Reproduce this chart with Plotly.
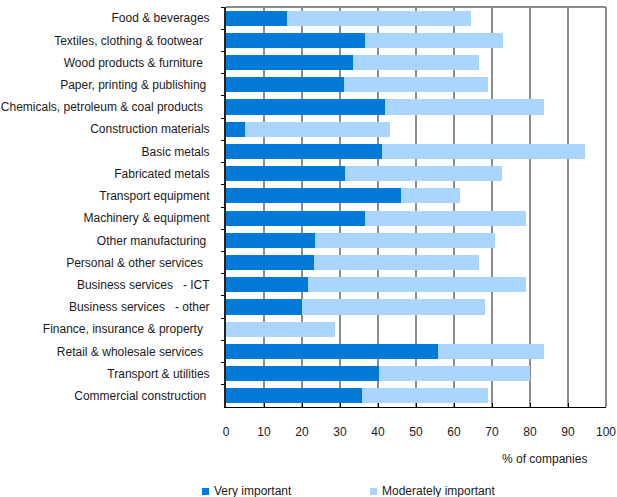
import plotly.graph_objects as go

NB = "\u00a0"

# Sectors, top to bottom
sectors = [
    "Food & beverages",
    "Textiles, clothing & footwear" + NB * 2,
    "Wood products & furniture" + NB * 2,
    "Paper, printing & publishing" + NB,
    "Chemicals, petroleum & coal products" + NB * 2,
    "Construction materials",
    "Basic metals",
    "Fabricated metals",
    "Transport equipment",
    "Machinery & equipment",
    "Other manufacturing" + NB,
    "Personal & other services" + NB * 2,
    "Business services" + NB * 3 + "- ICT",
    "Business services" + NB * 3 + "- other",
    "Finance, insurance & property" + NB * 2,
    "Retail & wholesale services" + NB * 2,
    "Transport & utilities",
    "Commercial construction" + NB,
]

# % of companies rating the factor "very important"
very_important = [16.0, 36.6, 33.4, 31.0, 41.8, 5.0, 41.0, 31.3, 46.0,
                  36.6, 23.4, 23.2, 21.6, 20.0, 0.0, 55.8, 40.3, 35.8]

# % of companies rating it "moderately important"
moderately_important = [48.4, 36.3, 33.2, 37.9, 41.9, 38.2, 53.5, 41.3, 15.6,
                        42.3, 47.4, 43.4, 57.3, 48.2, 28.7, 27.9, 39.7, 33.1]

x_ticks = [0, 10, 20, 30, 40, 50, 60, 70, 80, 90, 100]

series_names = ["Very important", "Moderately important"]

DARK = "#007AD6"
LIGHT = "#A9D5FE"
FONT = "Liberation Sans, Arial, sans-serif"
TEXT = "#1a1a1a"

fig = go.Figure()
fig.add_trace(go.Bar(
    y=sectors, x=very_important, orientation="h",
    name=series_names[0], marker=dict(color=DARK, line=dict(width=0)),
))
fig.add_trace(go.Bar(
    y=sectors, x=moderately_important, orientation="h",
    name=series_names[1], marker=dict(color=LIGHT, line=dict(width=0)),
))

# Key below the chart: small colour squares followed by the series names
key_x = [0.0, 0.0]
key_x[0] = 202
key_x[1] = 370
key_shapes = []
key_labels = []
for left_px, colour, label in zip(key_x, [DARK, LIGHT], series_names):
    key_shapes.append(dict(
        type="rect", xref="paper", yref="paper",
        x0=(left_px - 226) / 380, x1=(left_px + 7 - 226) / 380,
        y0=(407 - 495) / 400, y1=(407 - 488) / 400,
        fillcolor=colour, line=dict(width=0),
    ))
    key_labels.append(dict(
        text=label, xref="paper", yref="paper",
        x=(left_px + 10 - 226) / 380, y=(407 - 491) / 400,
        xanchor="left", yanchor="middle", showarrow=False,
        font=dict(family=FONT, size=12, color=TEXT),
    ))

fig.update_layout(
    barmode="stack",
    bargap=0.32,
    width=617, height=497,
    margin=dict(l=226, r=11, t=7, b=90, autoexpand=False),
    paper_bgcolor="white",
    plot_bgcolor="white",
    font=dict(family=FONT, size=12, color=TEXT),
    showlegend=False,
    xaxis=dict(
        range=[0, 100],
        tickmode="array", tickvals=x_ticks,
        ticks="inside", ticklen=4, tickcolor="black", tickwidth=1,
        showline=True, linecolor="black", linewidth=1,
        showgrid=True, gridcolor="#8c8c8c", gridwidth=2,
        zeroline=False,
        ticklabelstandoff=14,
        automargin=False,
        fixedrange=True,
    ),
    yaxis=dict(
        categoryorder="array", categoryarray=sectors,
        autorange="reversed",
        ticks="outside", tickson="boundaries", ticklen=3,
        tickcolor="black", tickwidth=1,
        showline=True, linecolor="#222222", linewidth=2,
        showgrid=False,
        ticklabelstandoff=12,
        automargin=False,
        fixedrange=True,
    ),
    annotations=[
        dict(text="% of companies", xref="paper", yref="paper",
             x=0.839, y=-0.13, xanchor="center", yanchor="middle",
             showarrow=False, font=dict(family=FONT, size=12, color=TEXT)),
    ] + key_labels,
    shapes=[
        dict(type="line", xref="paper", yref="paper", x0=0, x1=1, y0=1, y1=1,
             line=dict(color="#8c8c8c", width=2)),
        dict(type="line", xref="paper", yref="paper", x0=1, x1=1, y0=0, y1=1,
             line=dict(color="#8c8c8c", width=2)),
    ] + key_shapes,
)

fig.write_html("out.html")
